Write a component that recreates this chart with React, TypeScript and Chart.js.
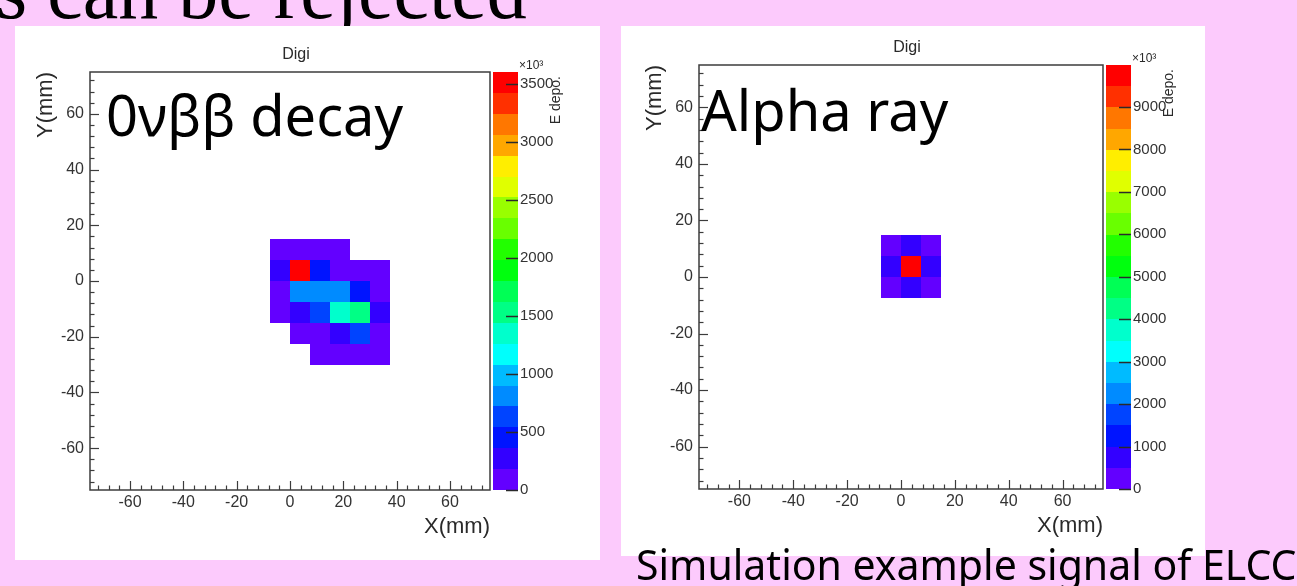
import React, { useEffect, useRef } from "react";
import { Chart, registerables } from "chart.js";

Chart.register(...registerables);
Chart.defaults.font.family = "'Liberation Sans', Arial, sans-serif";

// ROOT "pretty" palette, 20 contour bands (violet -> red)
const PALETTE = [
  "#6300ff", "#3300ff", "#0014ff", "#0044ff", "#008bff",
  "#00bbff", "#00fffc", "#00ffcc", "#00ff85", "#00ff55",
  "#00ff0e", "#22ff00", "#69ff00", "#99ff00", "#e0ff00",
  "#ffee00", "#ffa700", "#ff7700", "#ff3000", "#ff0000",
];

// ---- Left histogram: 0vbb decay (E depo. in units of x10^3) ----
const DECAY_X = [-3.75, 3.75, 11.25, 18.75, 26.25, 33.75];
const DECAY_Y = [11.25, 3.75, -3.75, -11.25, -18.75, -26.25];
const DECAY_E = [
  [110, 90, 120, 70, 0, 0],
  [270, 3600, 450, 100, 80, 60],
  [130, 810, 820, 800, 440, 120],
  [90, 280, 640, 1260, 1440, 290],
  [0, 100, 140, 300, 660, 80],
  [0, 0, 90, 120, 70, 110],
];
const DECAY_ZMAX = 3600;
const DECAY_ZTICKS = [0, 500, 1000, 1500, 2000, 2500, 3000, 3500];

// ---- Right histogram: alpha ray ----
const ALPHA_X = [-3.75, 3.75, 11.25];
const ALPHA_Y = [11.25, 3.75, -3.75];
const ALPHA_E = [
  [260, 760, 240],
  [780, 9990, 750],
  [250, 770, 230],
];
const ALPHA_ZMAX = 9990;
const ALPHA_ZTICKS = [0, 1000, 2000, 3000, 4000, 5000, 6000, 7000, 8000, 9000];

// Axis definition (mm)
const AXIS_MIN = -75;
const AXIS_MAX = 75;
const AXIS_TICKS = [-60, -40, -20, 0, 20, 40, 60];
const BIN_WIDTH = 7.5;
const MAJOR_STEP = 20;
const MINOR_STEP = 4;
const N_BANDS = 20;

const PINK = "#fccafc";
const INK = "#2a2a2a";

type PanelProps = {
  xs: number[];
  ys: number[];
  e: number[][];
  zmax: number;
  zticks: number[];
  left: number;
  top: number;
  width: number;
  height: number;
  area: { left: number; top: number; right: number; bottom: number };
};

function colorFor(v: number, zmax: number) {
  let j = Math.floor((v / zmax) * N_BANDS);
  if (j > N_BANDS - 1) j = N_BANDS - 1;
  if (j < 0) j = 0;
  return PALETTE[j];
}

function HistPanel(props: PanelProps) {
  const ref = useRef<HTMLCanvasElement>(null);
  useEffect(() => {
    const { xs, ys, e, zmax, zticks, width, height, area } = props;
    const pts: { x: number; y: number; v: number }[] = [];
    ys.forEach((yc, r) =>
      xs.forEach((xc, c) => {
        const v = e[r][c];
        if (v > 0) pts.push({ x: xc, y: yc, v });
      })
    );
    const BAR_GAP = 3;
    const BAR_W = 25;

    const plugin = {
      id: "root2d",
      beforeDatasetsDraw(chart: any) {
        const { ctx, scales } = chart;
        const sx = scales.x;
        const sy = scales.y;
        ctx.save();
        for (const p of chart.data.datasets[0].data as any[]) {
          const x0 = Math.round(sx.getPixelForValue(p.x - BIN_WIDTH / 2));
          const x1 = Math.round(sx.getPixelForValue(p.x + BIN_WIDTH / 2));
          const y0 = Math.round(sy.getPixelForValue(p.y + BIN_WIDTH / 2));
          const y1 = Math.round(sy.getPixelForValue(p.y - BIN_WIDTH / 2));
          ctx.fillStyle = colorFor(p.v, zmax);
          ctx.fillRect(x0, y0, x1 - x0, y1 - y0);
        }
        ctx.restore();
      },
      afterDraw(chart: any) {
        const { ctx, chartArea: a, scales } = chart;
        const sx = scales.x;
        const sy = scales.y;
        const sz = scales.z;
        ctx.save();
        // colour bar
        const bx0 = a.right + BAR_GAP;
        const bx1 = bx0 + BAR_W;
        for (let j = 0; j < N_BANDS; j++) {
          const yb = Math.round(sz.getPixelForValue((j * zmax) / N_BANDS));
          const yt = Math.round(sz.getPixelForValue(((j + 1) * zmax) / N_BANDS));
          ctx.fillStyle = PALETTE[j];
          ctx.fillRect(bx0, yt, BAR_W, yb - yt);
        }
        ctx.strokeStyle = INK;
        ctx.lineWidth = 1.5;
        for (const t of sz.ticks) {
          const py = Math.round(sz.getPixelForValue(t.value)) + 0.5;
          ctx.beginPath();
          ctx.moveTo(bx1 - 12, py);
          ctx.lineTo(bx1, py);
          ctx.stroke();
        }
        // frame
        ctx.strokeStyle = "#3c3c3c";
        ctx.lineWidth = 1.5;
        ctx.strokeRect(a.left, a.top, a.right - a.left, a.bottom - a.top);
        // inner ticks
        ctx.lineWidth = 1.2;
        const start = Math.ceil(AXIS_MIN / MINOR_STEP) * MINOR_STEP;
        for (let v = start; v <= AXIS_MAX; v += MINOR_STEP) {
          const len = v % MAJOR_STEP === 0 ? 9 : 4.5;
          const px = Math.round(sx.getPixelForValue(v)) + 0.5;
          ctx.beginPath();
          ctx.moveTo(px, a.bottom);
          ctx.lineTo(px, a.bottom - len);
          ctx.stroke();
          const py = Math.round(sy.getPixelForValue(v)) + 0.5;
          ctx.beginPath();
          ctx.moveTo(a.left, py);
          ctx.lineTo(a.left + len, py);
          ctx.stroke();
        }
        // texts
        ctx.fillStyle = INK;
        ctx.font = "16px 'Liberation Sans'";
        ctx.textAlign = "center";
        ctx.textBaseline = "middle";
        ctx.fillText("Digi", (a.left + a.right) / 2 + 6, a.top - 17);
        ctx.font = "12px 'Liberation Sans'";
        ctx.textAlign = "left";
        ctx.textBaseline = "alphabetic";
        ctx.fillText("\u00d710\u00b3", bx1 + 1, a.top - 3);
        ctx.save();
        ctx.translate(bx1 + 38, a.top + 4);
        ctx.rotate(-Math.PI / 2);
        ctx.font = "14px 'Liberation Sans'";
        ctx.textAlign = "right";
        ctx.textBaseline = "middle";
        ctx.fillText("E depo.", 0, 0);
        ctx.restore();
        ctx.restore();
      },
    };

    const tickFont = { family: "'Liberation Sans'", size: 16 };
    const titleFont = { family: "'Liberation Sans'", size: 22 };
    const yAxisW = area.left;
    const xAxisH = height - area.bottom;
    const zAxisW = width - area.right;
    const axisTicks = (s: any) => {
      s.ticks = AXIS_TICKS.map((v) => ({ value: v }));
    };

    const chart = new Chart(ref.current as HTMLCanvasElement, {
      type: "scatter",
      data: { datasets: [{ data: pts as any, pointRadius: 0, pointHoverRadius: 0 }] },
      options: {
        animation: false,
        responsive: false,
        events: [],
        layout: { padding: { top: area.top, left: 0, right: 0, bottom: 0 } },
        plugins: { legend: { display: false }, tooltip: { enabled: false }, title: { display: false } },
        scales: {
          x: {
            type: "linear",
            position: "bottom",
            min: AXIS_MIN,
            max: AXIS_MAX,
            grid: { display: false, drawTicks: false },
            border: { display: false },
            afterBuildTicks: axisTicks,
            ticks: {
              autoSkip: false,
              maxRotation: 0,
              padding: 3,
              color: "#333",
              font: tickFont,
              callback: (v: any) => String(v),
            },
            title: {
              display: true,
              text: "X(mm)",
              align: "end",
              color: INK,
              font: titleFont,
              padding: { top: 0, bottom: xAxisH - 50 },
            },
            afterFit: (s: any) => {
              s.height = xAxisH;
            },
          },
          y: {
            type: "linear",
            position: "left",
            min: AXIS_MIN,
            max: AXIS_MAX,
            grid: { display: false, drawTicks: false },
            border: { display: false },
            afterBuildTicks: axisTicks,
            ticks: {
              autoSkip: false,
              padding: 6,
              color: "#333",
              font: tickFont,
              callback: (v: any) => String(v),
            },
            title: {
              display: true,
              text: "Y(mm)",
              align: "end",
              color: INK,
              font: titleFont,
              padding: { top: yAxisW - 44 - 13, bottom: 0 },
            },
            afterFit: (s: any) => {
              s.width = yAxisW;
            },
          },
          z: {
            type: "linear",
            axis: "y",
            position: "right",
            min: 0,
            max: zmax,
            grid: { display: false, drawTicks: false },
            border: { display: false },
            afterBuildTicks: (s: any) => {
              s.ticks = zticks.map((v) => ({ value: v }));
            },
            ticks: {
              autoSkip: false,
              padding: BAR_GAP + BAR_W + 2,
              color: "#333",
              font: { family: "'Liberation Sans'", size: 15 },
              callback: (v: any) => String(v),
            },
            afterFit: (s: any) => {
              s.width = zAxisW;
            },
          },
        } as any,
      },
      plugins: [plugin],
    });
    return () => chart.destroy();
  }, []);
  return (
    <div
      style={{
        position: "absolute",
        left: props.left,
        top: props.top,
        width: props.width,
        height: props.height,
        background: "#ffffff",
      }}
    >
      <canvas ref={ref} width={props.width} height={props.height} style={{ display: "block" }} />
    </div>
  );
}

const bigText: React.CSSProperties = {
  position: "absolute",
  fontFamily: "'Noto Sans', 'Open Sans', sans-serif",
  whiteSpace: "nowrap",
  color: "#000",
};

export default function App() {
  return (
    <div
      style={{
        position: "fixed",
        left: 0,
        top: 0,
        width: 1297,
        height: 586,
        background: PINK,
        overflow: "hidden",
      }}
    >
      <div
        style={{
          position: "absolute",
          left: -4,
          top: -49,
          fontFamily: "'Liberation Serif', 'DejaVu Serif', serif",
          fontSize: 80,
          lineHeight: "80px",
          whiteSpace: "nowrap",
          color: "#000",
        }}
      >
        s can be rejected
      </div>
      <HistPanel
        xs={DECAY_X}
        ys={DECAY_Y}
        e={DECAY_E}
        zmax={DECAY_ZMAX}
        zticks={DECAY_ZTICKS}
        left={15}
        top={26}
        width={585}
        height={534}
        area={{ left: 75, top: 46, right: 475, bottom: 464 }}
      />
      <HistPanel
        xs={ALPHA_X}
        ys={ALPHA_Y}
        e={ALPHA_E}
        zmax={ALPHA_ZMAX}
        zticks={ALPHA_ZTICKS}
        left={621}
        top={26}
        width={584}
        height={530}
        area={{ left: 78, top: 38, right: 482, bottom: 463 }}
      />
      <div style={{ ...bigText, left: 106, top: 86, fontSize: 56, lineHeight: "56px" }}>0νββ decay</div>
      <div style={{ ...bigText, left: 701, top: 81, fontSize: 56, lineHeight: "56px" }}>Alpha ray</div>
      <div style={{ ...bigText, left: 636, top: 544, fontSize: 41, lineHeight: "41px" }}>
        Simulation example signal of ELCC
      </div>
    </div>
  );
}
